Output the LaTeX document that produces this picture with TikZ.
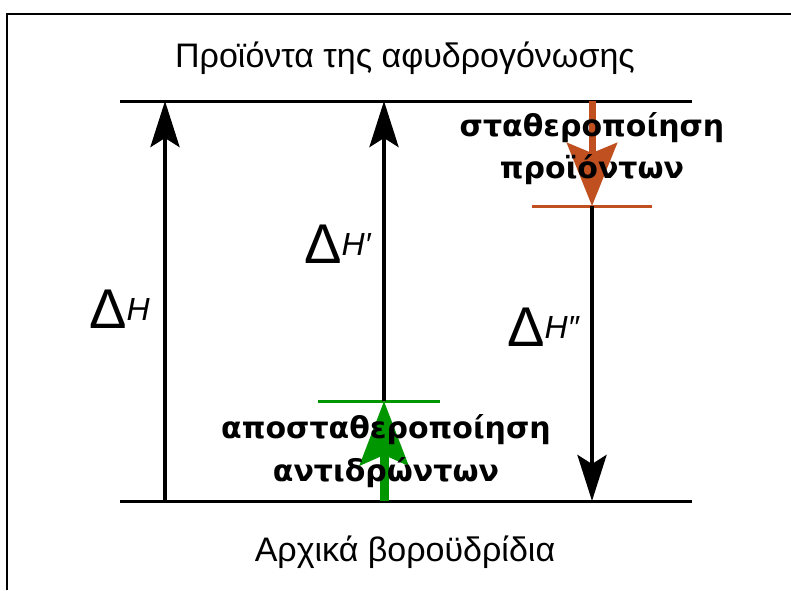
\documentclass[tikz,border=0pt]{standalone}
\usepackage{fontspec}
\setmainfont{Liberation Sans}
\newfontfamily\bfam{DejaVu Sans}
\usetikzlibrary{arrows.meta}
\definecolor{orng}{RGB}{192,80,32}
\definecolor{grn}{RGB}{0,150,0}
\tikzset{
  level/.style={line width=3pt},
  minor/.style={line width=3pt},
  blackarrow/.style={line width=4.5pt,-{Stealth[length=46pt,width=29pt,inset=9pt]}},
  greenarrow/.style={grn,line width=9pt,-{Stealth[length=64pt,width=48pt,inset=10pt]}},
  orangearrow/.style={orng,line width=7pt,-{Stealth[length=63pt,width=50pt,inset=10pt]}},
  plain/.style={inner sep=0pt,anchor=base,font=\fontsize{34}{40}\selectfont},
  boldlab/.style={inner sep=0pt,anchor=base,font=\bfam\bfseries\fontsize{30}{36}\selectfont},
  dlab/.style={inner sep=0pt,anchor=base west}
}
\newcommand{\dH}[1]{{\fontsize{56}{56}\selectfont Δ}\raisebox{8pt}{\fontsize{32}{32}\selectfont\itshape H#1}}
\begin{document}
\begin{tikzpicture}[x=1pt,y=-1pt]
\useasboundingbox (0,0) rectangle (791,590);
\draw[line width=2pt] (7,590) -- (7,14) -- (791,14);
% levels
\coordinate (topL) at (120,101);
\coordinate (topR) at (692,101);
\coordinate (botL) at (120,501);
\coordinate (botR) at (692,501);
\draw[level] (topL) -- (topR);
\draw[level] (botL) -- (botR);
\coordinate (gL) at (318,401);
\coordinate (gR) at (440,401);
\coordinate (oL) at (532,206);
\coordinate (oR) at (652,206);
\draw[grn,minor] (gL) -- (gR);
\draw[orng,minor] (oL) -- (oR);
% arrows
\coordinate (a1b) at (165,501);
\coordinate (a1t) at (165,101);
\coordinate (a2b) at (384,401);
\coordinate (a2t) at (384,101);
\coordinate (gb) at (384,501);
\coordinate (ot) at (592,101);
\coordinate (ob) at (592,206);
\coordinate (a3b) at (592,501);
\draw[blackarrow] (a1b) -- (a1t);
\draw[blackarrow] (a2b) -- (a2t);
\draw[blackarrow] (ob) -- (a3b);
\draw[greenarrow] (gb) -- (a2b);
\draw[orangearrow] (ot) -- (ob);
% texts
\node[plain] (title) at (405,67) {Προϊόντα της αφυδρογόνωσης};
\node[plain] (start) at (405,561) {Αρχικά βοροϋδρίδια};
\node[boldlab] (s1) at (592,136) {σταθεροποίηση};
\node[boldlab] (s2) at (592,178) {προϊόντων};
\node[boldlab] (d1) at (386,438) {αποσταθεροποίηση};
\node[boldlab] (d2) at (386,481) {αντιδρώντων};
\node[dlab] (dh) at (89,328) {\dH{}};
\node[dlab] (dh1) at (304,263) {\dH{′}};
\node[dlab] (dh2) at (507,346) {\dH{″}};
\end{tikzpicture}
\end{document}
